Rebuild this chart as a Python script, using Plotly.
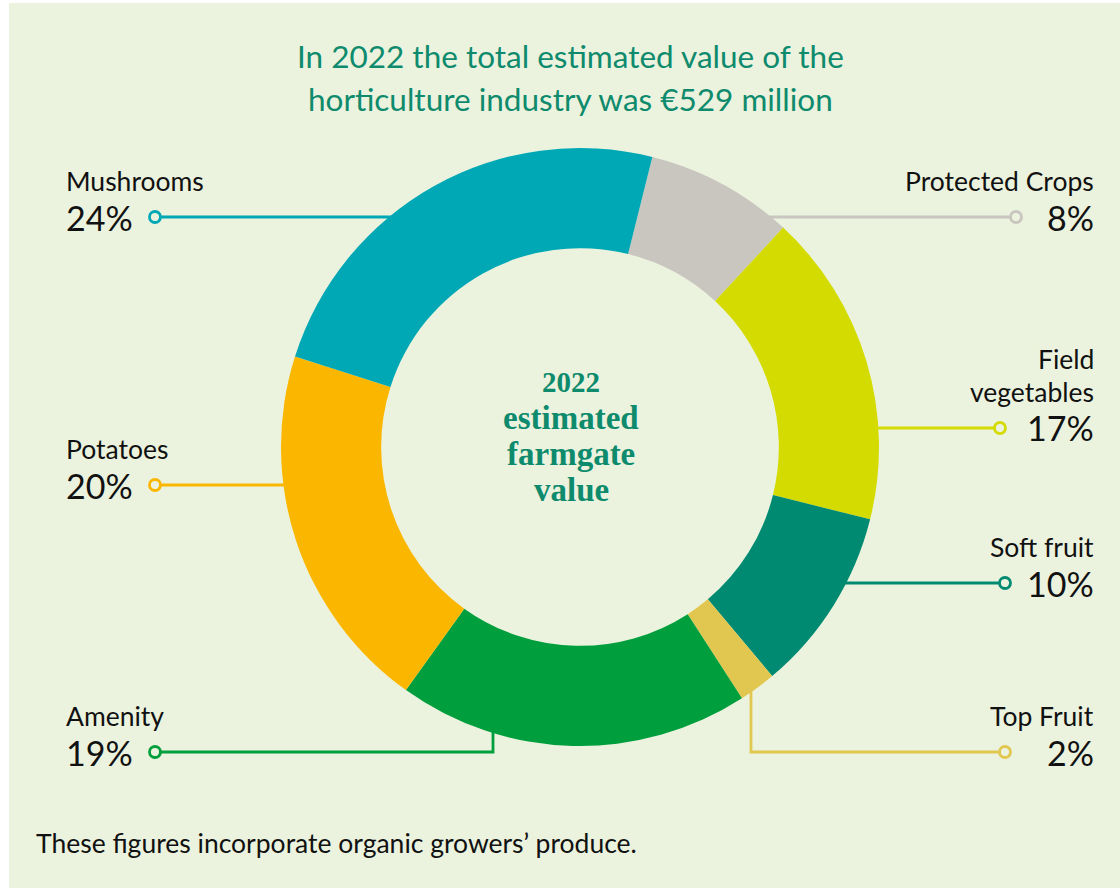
import math
import plotly.graph_objects as go

# ---------------- data ----------------
categories = ["Protected Crops", "Field vegetables", "Soft fruit", "Top Fruit",
              "Amenity", "Potatoes", "Mushrooms"]
shares = [8, 17, 10, 2, 19, 20, 24]
colors = ["#C9C5BF", "#D4DB00", "#008A72", "#E1C750", "#009E3D", "#FBB700", "#00A8B5"]
name_lines = [["Protected Crops"], ["Field", "vegetables"], ["Soft fruit"], ["Top Fruit"],
              ["Amenity"], ["Potatoes"], ["Mushrooms"]]

title_lines = ["In 2022 the total estimated value of the",
               "horticulture industry was €529 million"]
center_lines = ["2022", "estimated", "farmgate", "value"]
footnote = "These figures incorporate organic growers’ produce."

# ---------------- layout geometry (pixels) ----------------
W, H = 1120, 888
CX, CY, R = 580, 447, 299
BG = "#EBF3DE"
GREEN = "#0E8A6D"

def px(x):
    return x / W

def py(y):
    return 1 - y / H

# label anchor info: side, label y of percent row, marker x, optional elbow x
label_info = {
    "Protected Crops": dict(side="right", y=217, mx=1016),
    "Field vegetables": dict(side="right", y=428, mx=1000),
    "Soft fruit": dict(side="right", y=583, mx=1005),
    "Top Fruit": dict(side="right", y=752, mx=1005, elbow=751),
    "Amenity": dict(side="left", y=752, mx=155, elbow=493),
    "Potatoes": dict(side="left", y=485, mx=155),
    "Mushrooms": dict(side="left", y=217, mx=155),
}

fig = go.Figure()
fig.add_trace(go.Pie(
    labels=categories, values=shares, sort=False, direction="clockwise",
    rotation=14, hole=0.665, textinfo="none",
    marker=dict(colors=colors, line=dict(width=0)),
    domain=dict(x=[px(CX - R), px(CX + R)], y=[py(CY + R), py(CY - R)]),
    showlegend=False,
))

shapes = [dict(type="rect", xref="paper", yref="paper", x0=px(9), x1=1, y0=0, y1=py(3),
               fillcolor=BG, line=dict(width=0), layer="below")]
annotations = []

LW = 2.8
for cat, val, col, names in zip(categories, shares, colors, name_lines):
    info = label_info[cat]
    y = info["y"]
    mx = info["mx"]
    sgn = 1 if info["side"] == "right" else -1
    if "elbow" in info:
        ex = info["elbow"]
        ey = CY + math.sqrt(R * R - (ex - CX) ** 2) - 3
        path = f"M {px(mx)},{py(y)} L {px(ex)},{py(y)} L {px(ex)},{py(ey)}"
    else:
        ex = CX + sgn * (math.sqrt(R * R - (y - CY) ** 2) - 3)
        path = f"M {px(mx)},{py(y)} L {px(ex)},{py(y)}"
    shapes.append(dict(type="path", xref="paper", yref="paper", path=path,
                       line=dict(color=col, width=LW), layer="below"))
    shapes.append(dict(type="circle", xref="paper", yref="paper",
                       x0=px(mx - 5.5), x1=px(mx + 5.5), y0=py(y + 5.5), y1=py(y - 5.5),
                       fillcolor=BG, line=dict(color=col, width=LW)))
    tx = 1096 if sgn == 1 else 64
    anchor = "right" if sgn == 1 else "left"
    annotations.append(dict(x=px(tx), y=py(y), xref="paper", yref="paper", text=f"{val}%",
                            showarrow=False, xanchor=anchor, yanchor="middle",
                            font=dict(family="Lato", size=34, color="#111111")))
    for i, nm in enumerate(reversed(names)):
        annotations.append(dict(x=px(tx), y=py(y - 36 - 33 * i), xref="paper", yref="paper",
                                text=nm, showarrow=False, xanchor=anchor, yanchor="middle",
                                font=dict(family="Lato", size=26.5, color="#111111")))

for i, t in enumerate(title_lines):
    annotations.append(dict(x=px(570), y=py(56 + 43 * i), xref="paper", yref="paper", text=t,
                            showarrow=False, xanchor="center", yanchor="middle",
                            font=dict(family="Lato", size=31.5, color=GREEN)))

for i, t in enumerate(center_lines):
    annotations.append(dict(x=px(571), y=py(382 + 36 * i), xref="paper", yref="paper",
                            text=f"<b>{t}</b>", showarrow=False, xanchor="center",
                            yanchor="middle", borderpad=0,
                            font=dict(family="Liberation Serif", size=33 if i else 29,
                                      color=GREEN)))

annotations.append(dict(x=px(34), y=py(843), xref="paper", yref="paper", text=footnote,
                        showarrow=False, xanchor="left", yanchor="middle",
                        font=dict(family="Lato", size=26.5, color="#111111")))

fig.update_layout(width=W, height=H, margin=dict(l=0, r=0, t=0, b=0),
                  paper_bgcolor="white", plot_bgcolor="white",
                  shapes=shapes, annotations=annotations)

fig.write_html("out.html")
